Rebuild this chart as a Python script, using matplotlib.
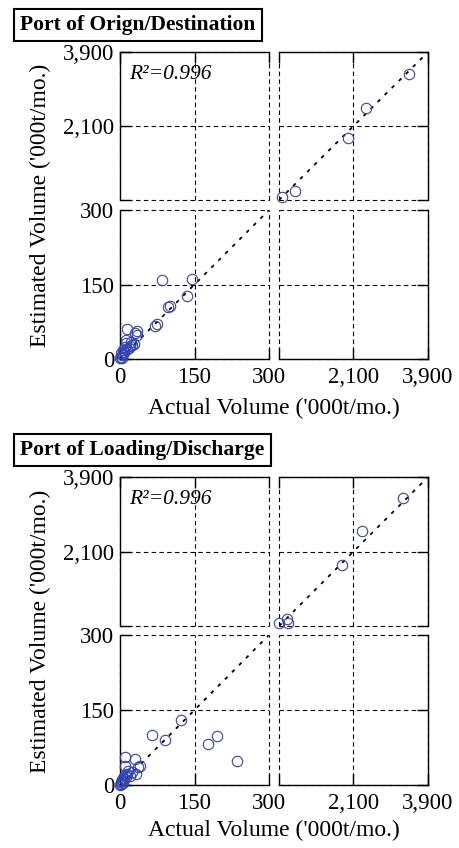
#!/usr/bin/env python3
"""
Actual vs estimated volume, two port definitions, each on a broken
(piecewise) scale: 0-300 linear and 300-3,900 linear, MATLAB-like look.
Writes out.png.
"""
import matplotlib

matplotlib.use("Agg")
import matplotlib.pyplot as plt
import numpy as np

plt.rcParams["font.family"] = ["Liberation Serif", "DejaVu Serif"]

BLUE = "#3344b4"
INK = "black"

# axis breaks / ticks ('000t/mo.)
LOW_TICKS = [0, 150, 300]
HIGH_TICKS = [300, 2100, 3900]
LOW_LABELS = ["0", "150", "300"]
HIGH_LABELS = ["", "2,100", "3,900"]

TITLES = ["Port of Orign/Destination", "Port of Loading/Discharge"]
R2 = ["0.996", "0.996"]

# panel 1: origin / destination
OD_ACTUAL = [84, 144, 134, 97, 100, 74, 70, 35, 15, 34, 30, 23, 13, 10, 12,
             7, 5, 3, 2, 8, 18, 25, 20, 4, 6, 1, 9, 15, 28,
             365, 687, 1974, 2402, 3448]
OD_ESTIM = [160, 162, 127, 104, 107, 70, 66, 56, 60, 48, 52, 35, 32, 25, 38,
            18, 8, 12, 4, 14, 22, 28, 26, 3, 10, 2, 15, 20, 30,
            380, 526, 1815, 2545, 3364]

# panel 2: loading / discharge
LD_ACTUAL = [123, 64, 91, 178, 195, 235, 11, 30, 10, 40, 32, 37, 17, 10, 7,
             5, 3, 2, 1, 4, 8, 12, 15, 20, 6, 2, 24,
             307, 500, 517, 1829, 2313, 3289]
LD_ESTIM = [131, 101, 91, 82, 99, 48, 57, 52, 38, 38, 23, 37, 29, 20, 14,
            10, 6, 3, 1, 8, 12, 16, 22, 18, 4, 2, 27,
            365, 462, 365, 1774, 2603, 3385]

PANELS = [(OD_ACTUAL, OD_ESTIM), (LD_ACTUAL, LD_ESTIM)]

W, H = 459, 848
# pixel boxes: (left, right) columns and (top, bottom) rows per panel
COLS = [(120, 269), (279, 428)]
ROWS = [[(52, 200), (210, 359)], [(477, 626), (635, 785)]]
TITLE_Y = [25, 450]
XLABEL_Y = [408, 830]


def px_axes(fig, l, r, t, b):
    return fig.add_axes([l / W, 1 - b / H, (r - l) / W, (b - t) / H])


def style(ax, xlo, ylo, left, upper):
    xt, xl = (LOW_TICKS, LOW_LABELS) if xlo else (HIGH_TICKS, HIGH_LABELS)
    yt, yl = (LOW_TICKS, LOW_LABELS) if ylo else (HIGH_TICKS, HIGH_LABELS)
    ax.set_xlim(xt[0], xt[-1])
    ax.set_ylim(yt[0], yt[-1])
    ax.set_xticks(xt)
    ax.set_yticks(yt)
    ax.set_xticklabels(xl if not upper else [""] * len(xt), fontsize=16.5)
    ax.set_yticklabels(yl if left else [""] * len(yt), fontsize=16.5)
    ax.spines["left"].set_visible(left)
    ax.spines["right"].set_visible(not left)
    ax.spines["top"].set_visible(upper)
    ax.spines["bottom"].set_visible(not upper)
    for s in ax.spines.values():
        s.set_linewidth(1.0)
    ax.tick_params(direction="in", length=8, width=1.0, color=INK,
                   left=left, right=not left, top=upper, bottom=not upper,
                   labelleft=left, labelbottom=not upper, pad=6)
    ax.tick_params(axis="y", pad=4)
    ax.grid(True, color=INK, lw=0.8, ls=(0, (4, 3)))
    for tk in ax.xaxis.get_major_ticks() + ax.yaxis.get_major_ticks():
        tk.gridline.set_clip_on(False)
    ax.set_facecolor("white")


def main():
    fig = plt.figure(figsize=(W / 100, H / 100), dpi=100, facecolor="white")
    for p, (act, est) in enumerate(PANELS):
        act = np.array(act, float)
        est = np.array(est, float)
        for ri, (t, b) in enumerate(ROWS[p]):
            upper = ri == 0
            for ci, (l, r) in enumerate(COLS):
                left = ci == 0
                ax = px_axes(fig, l, r, t, b)
                style(ax, left, not upper, left, upper)
                xm = act <= 300 if left else act > 300
                ym = est <= 300 if not upper else est > 300
                m = xm & ym
                ax.plot(act[m], est[m], "o", mfc="none", mec=BLUE, ms=7.5,
                        mew=0.8, zorder=3, clip_on=False)
                if left == (not upper):
                    lim = LOW_TICKS if left else HIGH_TICKS
                    ax.plot([lim[0], lim[-1]], [lim[0], lim[-1]], color=INK,
                            lw=1.3, ls=(0, (2, 3.5)), zorder=2)
                if left and upper:
                    ax.text(0.06, 0.85, f"R\u00b2={R2[p]}", transform=ax.transAxes,
                            fontsize=15.5, style="italic", va="center", color=INK)
        fig.text(20 / W, 1 - TITLE_Y[p] / H, TITLES[p], fontsize=15.5,
                 fontweight="bold", ha="left", va="center",
                 bbox=dict(boxstyle="square,pad=0.3", fc="white", ec=INK, lw=1.5))
        top, bot = ROWS[p][0][0], ROWS[p][1][1]
        fig.text(40 / W, 1 - (top + bot) / 2 / H, "Estimated Volume ('000t/mo.)",
                 rotation=90, fontsize=17, ha="center", va="center")
        fig.text((COLS[0][0] + COLS[1][1]) / 2 / W, 1 - XLABEL_Y[p] / H,
                 "Actual Volume ('000t/mo.)", fontsize=17, ha="center", va="center")
    fig.savefig("out.png", dpi=100, facecolor="white")
    plt.close(fig)


if __name__ == "__main__":
    main()
